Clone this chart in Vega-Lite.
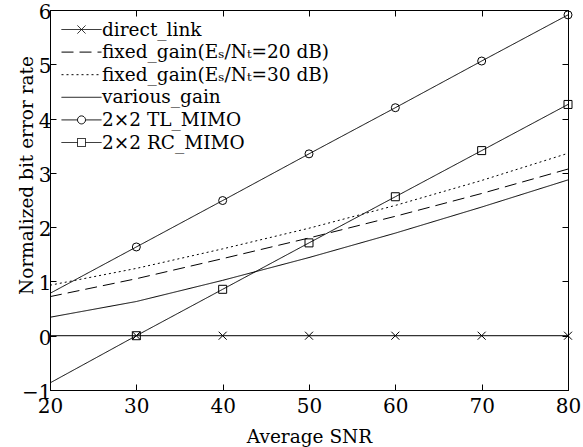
{
  "$schema": "https://vega.github.io/schema/vega-lite/v6.json",
  "autosize": "none",
  "width": 518,
  "height": 380,
  "padding": {"left": 50, "top": 10, "right": 15, "bottom": 57},
  "background": "white",
  "config": {
    "font": "DejaVu Serif",
    "view": {"stroke": "black", "strokeWidth": 1},
    "axis": {"grid": false, "domainColor": "black", "tickColor": "black", "labelColor": "black", "titleColor": "black", "labelFontSize": 20, "titleFontSize": 18.5, "titleFontWeight": "normal", "labelFont": "DejaVu Serif", "titleFont": "DejaVu Serif"}
  },
  "data": {"values": [
    {"snr": 20, "ber": 0, "series": "direct_link"},
    {"snr": 30, "ber": 0, "series": "direct_link"},
    {"snr": 40, "ber": 0, "series": "direct_link"},
    {"snr": 50, "ber": 0, "series": "direct_link"},
    {"snr": 60, "ber": 0, "series": "direct_link"},
    {"snr": 70, "ber": 0, "series": "direct_link"},
    {"snr": 80, "ber": 0, "series": "direct_link"},
    {"snr": 20, "ber": 0.72, "series": "fixed_gain(Eₛ/Nₜ=20 dB)"},
    {"snr": 30, "ber": 1.05, "series": "fixed_gain(Eₛ/Nₜ=20 dB)"},
    {"snr": 40, "ber": 1.42, "series": "fixed_gain(Eₛ/Nₜ=20 dB)"},
    {"snr": 50, "ber": 1.8, "series": "fixed_gain(Eₛ/Nₜ=20 dB)"},
    {"snr": 60, "ber": 2.2, "series": "fixed_gain(Eₛ/Nₜ=20 dB)"},
    {"snr": 70, "ber": 2.62, "series": "fixed_gain(Eₛ/Nₜ=20 dB)"},
    {"snr": 80, "ber": 3.07, "series": "fixed_gain(Eₛ/Nₜ=20 dB)"},
    {"snr": 20, "ber": 0.93, "series": "fixed_gain(Eₛ/Nₜ=30 dB)"},
    {"snr": 30, "ber": 1.24, "series": "fixed_gain(Eₛ/Nₜ=30 dB)"},
    {"snr": 40, "ber": 1.6, "series": "fixed_gain(Eₛ/Nₜ=30 dB)"},
    {"snr": 50, "ber": 1.98, "series": "fixed_gain(Eₛ/Nₜ=30 dB)"},
    {"snr": 60, "ber": 2.4, "series": "fixed_gain(Eₛ/Nₜ=30 dB)"},
    {"snr": 70, "ber": 2.86, "series": "fixed_gain(Eₛ/Nₜ=30 dB)"},
    {"snr": 80, "ber": 3.36, "series": "fixed_gain(Eₛ/Nₜ=30 dB)"},
    {"snr": 20, "ber": 0.34, "series": "various_gain"},
    {"snr": 30, "ber": 0.63, "series": "various_gain"},
    {"snr": 40, "ber": 1.02, "series": "various_gain"},
    {"snr": 50, "ber": 1.44, "series": "various_gain"},
    {"snr": 60, "ber": 1.89, "series": "various_gain"},
    {"snr": 70, "ber": 2.37, "series": "various_gain"},
    {"snr": 80, "ber": 2.87, "series": "various_gain"},
    {"snr": 20, "ber": 0.78, "series": "2×2 TL_MIMO"},
    {"snr": 30, "ber": 1.635, "series": "2×2 TL_MIMO"},
    {"snr": 40, "ber": 2.49, "series": "2×2 TL_MIMO"},
    {"snr": 50, "ber": 3.35, "series": "2×2 TL_MIMO"},
    {"snr": 60, "ber": 4.2, "series": "2×2 TL_MIMO"},
    {"snr": 70, "ber": 5.06, "series": "2×2 TL_MIMO"},
    {"snr": 80, "ber": 5.91, "series": "2×2 TL_MIMO"},
    {"snr": 20, "ber": -0.87, "series": "2×2 RC_MIMO"},
    {"snr": 30, "ber": 0, "series": "2×2 RC_MIMO"},
    {"snr": 40, "ber": 0.855, "series": "2×2 RC_MIMO"},
    {"snr": 50, "ber": 1.71, "series": "2×2 RC_MIMO"},
    {"snr": 60, "ber": 2.56, "series": "2×2 RC_MIMO"},
    {"snr": 70, "ber": 3.41, "series": "2×2 RC_MIMO"},
    {"snr": 80, "ber": 4.26, "series": "2×2 RC_MIMO"}
  ]},
  "resolve": {"axis": {"x": "independent", "y": "independent"}},
  "layer": [
    {
      "mark": {"type": "line", "color": "black", "strokeWidth": 1, "clip": true},
      "encoding": {
        "x": {"field": "snr", "type": "quantitative", "scale": {"domain": [20, 80], "nice": false},
          "axis": {"orient": "bottom", "values": [20, 30, 40, 50, 60, 70, 80], "tickSize": -6, "labelPadding": 12, "title": "Average SNR", "titleY": 52, "titleBaseline": "alphabetic", "labelFlush": false}},
        "y": {"field": "ber", "type": "quantitative", "scale": {"domain": [-1, 6], "nice": false, "zero": false},
          "axis": {"orient": "left", "values": [-1, 0, 1, 2, 3, 4, 5, 6], "tickSize": -6, "labelPadding": 5, "labelOffset": 2.5, "title": "Normalized bit error rate", "titleX": -24, "titleY": 165, "titleBaseline": "middle", "titleAngle": 270, "labelFlush": false}},
        "detail": {"field": "series"},
        "strokeDash": {"field": "series", "type": "nominal",
          "scale": {"domain": ["direct_link", "fixed_gain(Eₛ/Nₜ=20 dB)", "fixed_gain(Eₛ/Nₜ=30 dB)", "various_gain", "2×2 TL_MIMO", "2×2 RC_MIMO"],
            "range": [[1, 0], [12, 6], [2, 3], [1, 0], [1, 0], [1, 0]]},
          "legend": {
            "title": null, "orient": "none", "legendX": 21, "legendY": 9, "padding": 0,
            "symbolSize": 400, "symbolStrokeWidth": 1, "symbolStrokeColor": "black", "symbolFillColor": "transparent",
            "labelFontSize": 18.5, "labelFont": "DejaVu Serif", "labelColor": "black", "labelOffset": 10, "labelLimit": 400, "rowPadding": 2.6,
            "encode": {"symbols": {"update": {
              "shape": {"signal": "datum.value === 'direct_link' ? 'M-2,0L2,0M-0.4,-0.4L0.4,0.4M-0.4,0.4L0.4,-0.4' : datum.value === '2×2 TL_MIMO' ? 'M-2,0L-0.4,0M0.4,0L2,0M0.4,0A0.4,0.4,0,1,1,-0.4,0A0.4,0.4,0,1,1,0.4,0' : datum.value === '2×2 RC_MIMO' ? 'M-2,0L-0.4,0M0.4,0L2,0M-0.4,-0.4L0.4,-0.4L0.4,0.4L-0.4,0.4Z' : 'M-2,0L2,0'"},
              "fill": {"value": "transparent"},
              "stroke": {"value": "black"},
              "strokeWidth": {"value": 1}
            }}}
          }}
      }
    },
    {
      "transform": [
        {"filter": "datum.snr >= 30 && (datum.series === 'direct_link' || datum.series === '2×2 TL_MIMO' || datum.series === '2×2 RC_MIMO')"}
      ],
      "mark": {"type": "point", "filled": false, "color": "black", "strokeWidth": 1, "size": 64, "opacity": 1, "clip": false},
      "encoding": {
        "x": {"field": "snr", "type": "quantitative", "scale": {"domain": [20, 80], "nice": false},
          "axis": {"orient": "top", "values": [20, 30, 40, 50, 60, 70, 80], "tickSize": -6, "labels": false, "domain": false, "title": null}},
        "y": {"field": "ber", "type": "quantitative", "scale": {"domain": [-1, 6], "nice": false, "zero": false},
          "axis": {"orient": "right", "values": [-1, 0, 1, 2, 3, 4, 5, 6], "tickSize": -6, "labels": false, "domain": false, "title": null}},
        "shape": {"field": "series", "type": "nominal",
          "scale": {"domain": ["direct_link", "2×2 TL_MIMO", "2×2 RC_MIMO"], "range": ["M-1,-1L1,1M-1,1L1,-1", "circle", "square"]},
          "legend": null}
      }
    }
  ]
}
